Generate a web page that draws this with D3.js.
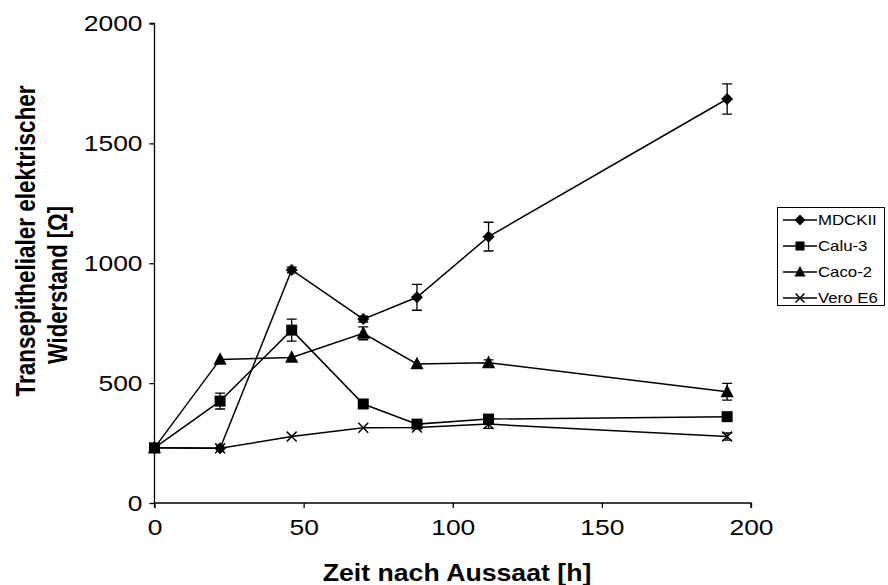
<!DOCTYPE html>
<html><head><meta charset="utf-8">
<script src="https://cdn.jsdelivr.net/npm/d3@7/dist/d3.min.js"></script>
<style>body{margin:0;background:#fff}svg{display:block}text{font-family:"Liberation Sans",Arial,sans-serif}</style>
</head><body><svg id="c" width="888" height="585"></svg>
<script>
const hours = [0, 22, 46, 70, 88, 112, 192];
const seriesNames = ["MDCKII", "Calu-3", "Caco-2", "Vero E6"];
const mdck = [230, 228, 972, 767, 858, 1111, 1685];
const mdckErr = [0, 0, 12, 12, 54, 60, 63];
const calu = [230, 425, 721, 413, 329, 350, 360];
const caluErr = [0, 33, 46, 0, 0, 0, 0];
const caco = [230, 599, 607, 708, 580, 585, 464];
const cacoErr = [0, 0, 0, 27, 0, 12, 35];
const vero = [230, 228, 277, 314, 315, 329, 277];
const veroErr = [0, 0, 0, 0, 0, 18, 15];
const xTicks = [0, 50, 100, 150, 200];
const yTicks = [0, 500, 1000, 1500, 2000];

const svg = d3.select("#c");
const x = d3.scaleLinear().domain([0, 200]).range([154.5, 751]);
const y = d3.scaleLinear().domain([0, 2000]).range([503, 23.5]);
const SX = 1.2; // horizontal glyph stretch seen in the reference

const series = [
  {name: seriesNames[0], vals: mdck, err: mdckErr, shape: "diamond"},
  {name: seriesNames[1], vals: calu, err: caluErr, shape: "square"},
  {name: seriesNames[2], vals: caco, err: cacoErr, shape: "triangle"},
  {name: seriesNames[3], vals: vero, err: veroErr, shape: "cross"}
];

const yAxis = svg.append("g").attr("transform", `translate(${x(0)},0)`)
  .call(d3.axisLeft(y).tickValues(yTicks).tickSize(5).tickPadding(9).tickFormat(d3.format("d")));
const xAxis = svg.append("g").attr("transform", `translate(0,${y(0)})`)
  .call(d3.axisBottom(x).tickValues(xTicks).tickSize(5).tickPadding(6).tickFormat(d3.format("d")));
[yAxis, xAxis].forEach(a => {
  a.select(".domain").attr("stroke", "#000").attr("stroke-width", 1.3);
  a.selectAll(".tick line").attr("stroke", "#000").attr("stroke-width", 1.3);
  a.selectAll(".tick text").attr("font-size", 22).attr("fill", "#000")
    .style("font-family", '"Liberation Sans",Arial,sans-serif');
});
yAxis.selectAll(".tick text").attr("x", 0).attr("transform", `translate(-12,0) scale(${SX},1)`);
xAxis.selectAll(".tick text").attr("y", 0).attr("dy", null)
  .attr("transform", `translate(0,32) scale(${SX},1)`);
yAxis.select(".domain").attr("d", `M-5,${y(2000)}H0V${y(0)}`);
xAxis.select(".domain").attr("d", `M${x(0)},5V0H${x(200)}V5`);

function marker(g, shape, cx, cy, s) {
  if (shape === "diamond") {
    g.append("path").attr("d", `M${cx},${cy - s / 2}L${cx + s / 2},${cy}L${cx},${cy + s / 2}L${cx - s / 2},${cy}Z`).attr("fill", "#000");
  } else if (shape === "square") {
    g.append("rect").attr("x", cx - s / 2).attr("y", cy - s / 2).attr("width", s).attr("height", s).attr("fill", "#000");
  } else if (shape === "triangle") {
    g.append("path").attr("d", `M${cx},${cy - s * 0.6}L${cx + s * 0.55},${cy + s * 0.45}L${cx - s * 0.55},${cy + s * 0.45}Z`).attr("fill", "#000");
  } else {
    const h = s * 0.45;
    g.append("path").attr("d", `M${cx - h},${cy - h}L${cx + h},${cy + h}M${cx - h},${cy + h}L${cx + h},${cy - h}`).attr("stroke", "#000").attr("stroke-width", 1.5);
  }
}

const plot = svg.append("g");
const line = d3.line().x((d, i) => x(hours[i])).y(d => y(d));
series.forEach(s => {
  plot.append("path").datum(s.vals).attr("d", line).attr("fill", "none").attr("stroke", "#000").attr("stroke-width", 1.5);
});
series.forEach(s => {
  s.vals.forEach((v, i) => {
    const e = s.err[i];
    if (e > 0) {
      const cx = x(hours[i]);
      plot.append("path").attr("d", `M${cx},${y(v + e)}V${y(v - e)}M${cx - 5},${y(v + e)}H${cx + 5}M${cx - 5},${y(v - e)}H${cx + 5}`)
        .attr("stroke", "#000").attr("stroke-width", 1.3).attr("fill", "none");
    }
  });
});
series.forEach(s => {
  const g = plot.append("g");
  const sz = s.shape === "square" ? 11 : (s.shape === "triangle" ? 12 : (s.shape === "cross" ? 11 : 12));
  s.vals.forEach((v, i) => marker(g, s.shape, x(hours[i]), y(v), sz));
});

// axis titles
svg.append("text").attr("transform", `translate(457,581) scale(1.16,1)`).attr("text-anchor", "middle")
  .attr("font-size", 23).attr("font-weight", "bold").text("Zeit nach Aussaat [h]");
const yt = svg.append("g").attr("transform", `rotate(-90) scale(1,1.25)`);
yt.append("text").attr("x", -241).attr("y", 28).attr("text-anchor", "middle")
  .attr("font-size", 22.5).attr("font-weight", "bold").text("Transepithelialer elektrischer");
yt.append("text").attr("x", -285).attr("y", 53.6).attr("text-anchor", "middle")
  .attr("font-size", 22).attr("font-weight", "bold").text("Widerstand [Ω]");

// legend
const lg = svg.append("g");
lg.append("rect").attr("x", 777.5).attr("y", 207.5).attr("width", 107).attr("height", 98)
  .attr("fill", "#fff").attr("stroke", "#000").attr("stroke-width", 1);
series.forEach((s, i) => {
  const ly = 220 + i * 26;
  lg.append("line").attr("x1", 783).attr("x2", 817).attr("y1", ly).attr("y2", ly).attr("stroke", "#000").attr("stroke-width", 1.5);
  const sz = s.shape === "square" ? 9 : (s.shape === "triangle" ? 10 : (s.shape === "cross" ? 10 : 11));
  marker(lg, s.shape, 800, ly, sz);
  lg.append("text").attr("transform", `translate(818,${ly + 5}) scale(${SX},1)`).attr("font-size", 14).text(s.name);
});
</script>
</body></html>
